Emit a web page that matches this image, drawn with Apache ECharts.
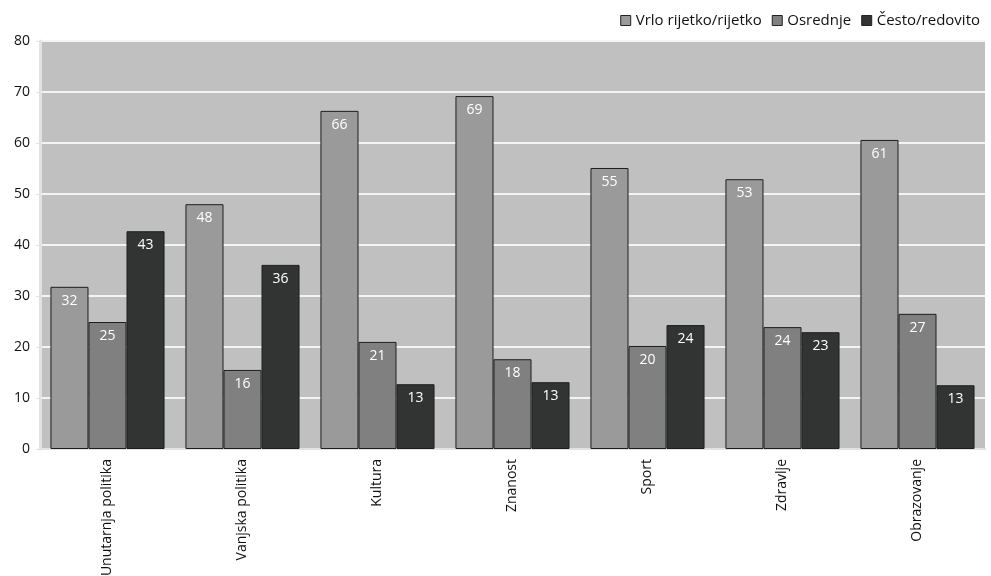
<!DOCTYPE html>
<html><head><meta charset="utf-8">
<script src="https://cdn.jsdelivr.net/npm/echarts@6/dist/echarts.min.js"></script>
<style>html,body{margin:0;padding:0;background:#fff}#c{width:991px;height:576px}</style>
</head><body><div id="c"></div>
<script>
const categories = ["Unutarnja politika","Vanjska politika","Kultura","Znanost","Sport","Zdravlje","Obrazovanje"];
const seriesNames = ["Vrlo rijetko/rijetko","Osrednje","Često/redovito"];
const rijetko = [31.8, 48.0, 66.3, 69.2, 55.1, 52.9, 60.6];
const osrednje = [24.9, 15.5, 21.0, 17.6, 20.2, 23.9, 26.5];
const cesto = [42.7, 36.1, 12.7, 13.1, 24.3, 22.9, 12.5];
const yTicks = [0,10,20,30,40,50,60,70,80];

const colors = ['#999a99','#808080','#323333'];
const font = 'Open Sans';
const chart = echarts.init(document.getElementById('c'));
function mk(name, data, color){
  return {
    name, type:'bar', data, barGap:'0%', barCategoryGap:'15.5%',
    itemStyle:{color, borderColor:'#1e1e1e', borderWidth:1},
    label:{show:true, position:'insideTop', color:'#fff', fontSize:14, fontFamily:font, distance:7,
      formatter:p=>Math.round(p.value)},
    emphasis:{disabled:true}
  };
}
chart.setOption({
  animation:false,
  textStyle:{fontFamily:font},
  legend:{right:6, top:8, itemWidth:10, itemHeight:10, itemGap:10,
    textStyle:{fontSize:15, color:'#111', fontFamily:font},
    itemStyle:{borderColor:'#222', borderWidth:1},
    data:seriesNames.map((n,i)=>({name:n, icon:'rect'}))},
  grid:{left:40, right:6, top:41, bottom:127, show:true, backgroundColor:'#c0c0c0', borderWidth:0,
    containLabel:false, outerBoundsMode:'none'},
  xAxis:{type:'category', data:categories,
    axisLine:{show:true, lineStyle:{color:'#e2e2e2', width:2}},
    axisTick:{show:false},
    axisLabel:{rotate:90, fontSize:14, color:'#111', fontFamily:font, margin:10, interval:0}},
  yAxis:{type:'value', min:yTicks[0], max:yTicks[yTicks.length-1], interval:10,
    axisLine:{show:true, lineStyle:{color:'#e2e2e2', width:3}},
    axisTick:{show:true, length:4, lineStyle:{color:'#e2e2e2'}},
    splitLine:{show:true, lineStyle:{color:'#f4f4f4', width:2}},
    axisLabel:{fontSize:14, color:'#111', fontFamily:font, margin:10,
      formatter:v=>yTicks.includes(v)?String(v):''}},
  series:[mk(seriesNames[0], rijetko, colors[0]), mk(seriesNames[1], osrednje, colors[1]), mk(seriesNames[2], cesto, colors[2])]
});
</script></body></html>
